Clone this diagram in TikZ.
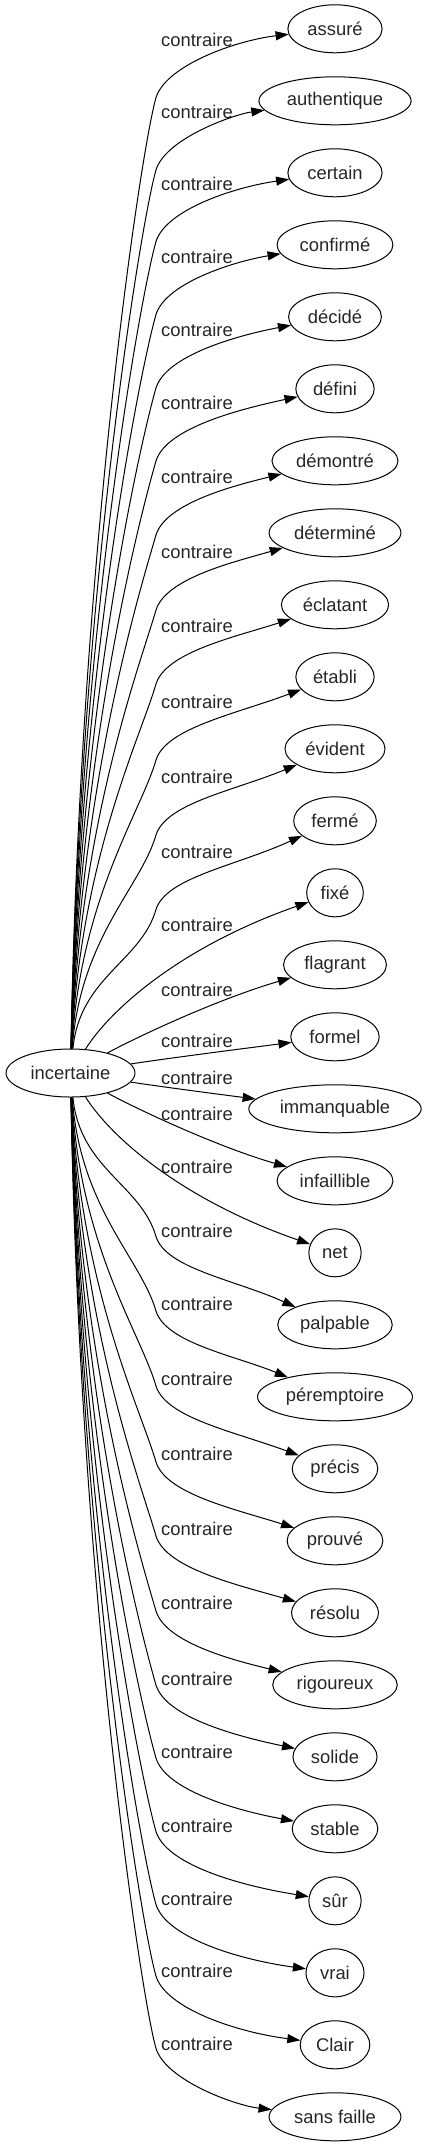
\documentclass[tikz,border=0pt]{standalone}
\usepackage{fontspec}
\setmainfont{Liberation Sans}
\usetikzlibrary{arrows.meta,shapes.geometric}
\begin{document}
\begin{tikzpicture}[x=1pt,y=-1pt,
  every node/.style={font=\fontsize{18.4}{22}\selectfont, text=black!85},
  word/.style={ellipse, draw=black, line width=1pt, inner xsep=5.7pt, inner ysep=2pt, minimum height=48pt},
  lab/.style={inner sep=0pt},
  conn/.style={draw=black, line width=1pt, -{Triangle[length=13pt,width=9pt]}}]
\useasboundingbox (0,0) rectangle (426,2147);
\node[word] (src) at (70.5,1073) {incertaine};
\foreach \w [count=\n from 0] in {assuré,authentique,certain,confirmé,décidé,défini,démontré,déterminé,éclatant,établi,évident,fermé,fixé,flagrant,formel,immanquable,infaillible,net,palpable,péremptoire,précis,prouvé,résolu,rigoureux,solide,stable,sûr,vrai,Clair,sans faille}
  \node[word] (t\n) at (335,{28.8+72*\n}) {\w};
\foreach \L [count=\n from 0] in {39.6,111.9,183.5,256.5,329.9,402.9,476.9,552,626,702,777,851.5,925,990,1041,1078,1114,1167,1231,1304,1379,1454,1529,1603,1679,1752,1826,1899,1971,2044}
  \node[lab] (l\n) at (197,\L) {contraire};
% far edges, upper and mirrored lower
\foreach \i/\L in {0/39.6,1/111.9,2/183.5,3/256.5,4/329.9,5/402.9,6/476.9,7/552,8/626,9/702,10/777,11/851.5}{
  \pgfmathsetmacro\Ky{\L+58}
  \pgfmathsetmacro\Ca{1050-0.52*(1050-\Ky)}
  \pgfmathsetmacro\Cb{\Ky+52}
  \pgfmathsetmacro\Cc{\Ky-32}
  \pgfmathsetmacro\Cd{\L+1+1.25*\i}
  \pgfmathtruncatemacro\j{29-\i}
  \pgfmathsetmacro\Kym{2146-\Ky}
  \pgfmathsetmacro\Cam{2146-\Ca}
  \pgfmathsetmacro\Cbm{2146-\Cb}
  \pgfmathsetmacro\Ccm{2146-\Cc}
  \pgfmathsetmacro\Cdm{2146-\Cd}
  \draw[conn] (src) .. controls (80,\Ca) and (141,\Cb) .. (156,\Ky) .. controls (166,\Cc) and (235,\Cd) .. (t\i);
  \draw[conn] (src) .. controls (80,\Cam) and (141,\Cbm) .. (156,\Kym) .. controls (166,\Ccm) and (235,\Cdm) .. (t\j);
}
% near edges
\draw[conn] (src) .. controls (110,1010) and (180,947) .. (t12);
\draw[conn] (src) .. controls (135,1038) and (215,1000) .. (t13);
\draw[conn] (src) .. controls (170,1058) and (240,1049) .. (t14);
\draw[conn] (src) .. controls (170,1088) and (240,1097) .. (t15);
\draw[conn] (src) .. controls (135,1108) and (215,1146) .. (t16);
\draw[conn] (src) .. controls (110,1136) and (180,1199) .. (t17);
\end{tikzpicture}
\end{document}
